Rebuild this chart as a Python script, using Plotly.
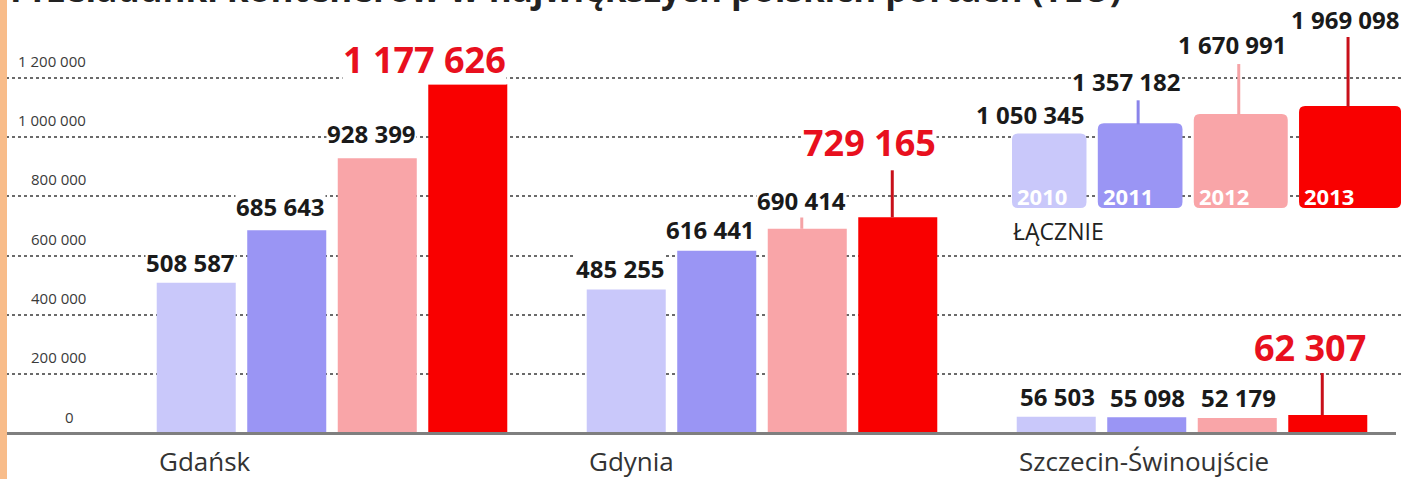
import math
import plotly.graph_objects as go

# ---------------- data ----------------
ports = ["Gdańsk", "Gdynia", "Szczecin-Świnoujście"]
years = ["2010", "2011", "2012", "2013"]
v2010 = [508587, 485255, 56503]
v2011 = [685643, 616441, 55098]
v2012 = [928399, 690414, 52179]
v2013 = [1177626, 729165, 62307]
totals = [1050345, 1357182, 1670991, 1969098]
tick_vals = [0, 200000, 400000, 600000, 800000, 1000000, 1200000]
tick_labels = ["0", "200 000", "400 000", "600 000", "800 000", "1 000 000", "1 200 000"]
total_label = "ŁĄCZNIE"
title_text = "Przeładunki kontenerów w największych polskich portach (TEU)"

series = [v2010, v2011, v2012, v2013]

# ---------------- layout constants ----------------
W, H = 1401, 479
X0PX, XUNIT = 332.0, 430.0          # pixel of category 0 centre, pixels per category
Y0PX, YPX = 433.5, 296.5e-6         # pixel of value 0, pixels per unit
BARGAP, GROUPGAP = 0.158, 0.127
SLOT = (1 - BARGAP) / 4
BARW = SLOT * (1 - GROUPGAP)

bar_colors = ["#c9c8fa", "#9a95f4", "#f9a5a8", "#f90000"]
leader_colors = ["#c9c8fa", "#8a84ea", "#f5a3a6", "#c8101a"]
label_colors = ["#1a1a1a", "#1a1a1a", "#1a1a1a", "#e8101e"]
label_sizes = [24, 24, 24, 36]
label_shift = [[20, 21.5, 20], [24, 21, 20], [25, 28, 21], [25, 75, 68]]
leader_len = [[0, 0, 0], [0, 0, 0], [0, 14, 0], [0, 47, 42]]

FONT = "Open Sans, Noto Sans, DejaVu Sans, sans-serif"


def px_x(p):
    return p / W


def px_y(p):
    return 1 - p / H


def fmt(v):
    return f"{v:,}".replace(",", " ")


fig = go.Figure()
for k, (yr, vals) in enumerate(zip(years, series)):
    fig.add_trace(go.Bar(
        x=list(range(len(ports))), y=vals, name=yr,
        marker=dict(color=bar_colors[k], line=dict(width=0)),
        hoverinfo="y",
    ))

annotations = []
shapes = []

# value labels and leader lines
for k, vals in enumerate(series):
    for i, v in enumerate(vals):
        centre = i + (k - 1.5) * SLOT
        right = centre + BARW / 2
        annotations.append(dict(
            x=right, y=v, xref="x", yref="y", xanchor="right", yanchor="middle",
            yshift=label_shift[k][i], text="<b>" + fmt(v) + "</b>", showarrow=False,
            font=dict(family=FONT, size=label_sizes[k], color=label_colors[k]),
            bgcolor="white", borderpad=0,
        ))
        L = leader_len[k][i]
        if L:
            lx = centre - 5.5 / XUNIT
            shapes.append(dict(type="line", xref="x", yref="y", x0=lx, x1=lx,
                               y0=v, y1=v + L / YPX,
                               line=dict(color=leader_colors[k], width=3), layer="above"))

# category labels
for i, p in enumerate(ports):
    left = i - 1.5 * SLOT - BARW / 2
    annotations.append(dict(
        x=left, y=px_y(461), xref="x", yref="paper", xanchor="left", yanchor="middle",
        text=p, showarrow=False, font=dict(family=FONT, size=26, color="#333333"),
    ))

# y tick labels
for tv, tl in zip(tick_vals, tick_labels):
    ypx = Y0PX - tv * YPX - 17
    xr = 76 if tv == 0 else 88
    annotations.append(dict(
        x=px_x(xr), y=px_y(ypx), xref="paper", yref="paper", xanchor="right",
        yanchor="middle", text=tl, showarrow=False,
        font=dict(family=FONT, size=15, color="#3a3a3a"),
    ))

# totals ("ŁĄCZNIE") boxes, area proportional to value
kbox = 102 / math.sqrt(max(totals))
left = 1012.0
bottom = 208.0
tot_label_off = [19, 42, 70, 87]
tot_leader = [0, 23, 50, 69]
for k, t in enumerate(totals):
    side = kbox * math.sqrt(t)
    x0, x1 = left, left + side
    y1, y0 = bottom, bottom - side
    r = 6
    path = (f"M {px_x(x0 + r)},{px_y(y0)} L {px_x(x1 - r)},{px_y(y0)} "
            f"Q {px_x(x1)},{px_y(y0)} {px_x(x1)},{px_y(y0 + r)} "
            f"L {px_x(x1)},{px_y(y1 - r)} Q {px_x(x1)},{px_y(y1)} {px_x(x1 - r)},{px_y(y1)} "
            f"L {px_x(x0 + r)},{px_y(y1)} Q {px_x(x0)},{px_y(y1)} {px_x(x0)},{px_y(y1 - r)} "
            f"L {px_x(x0)},{px_y(y0 + r)} Q {px_x(x0)},{px_y(y0)} {px_x(x0 + r)},{px_y(y0)} Z")
    shapes.append(dict(type="path", path=path, xref="paper", yref="paper",
                       fillcolor=bar_colors[k], line=dict(width=0), layer="above"))
    if tot_leader[k]:
        cx = (x0 + x1) / 2 - 2
        shapes.append(dict(type="line", xref="paper", yref="paper",
                           x0=px_x(cx), x1=px_x(cx), y0=px_y(y0 + 1), y1=px_y(y0 - tot_leader[k]),
                           line=dict(color=leader_colors[k], width=3), layer="above"))
    annotations.append(dict(
        x=px_x(x1), y=px_y(y0 - tot_label_off[k]), xref="paper", yref="paper",
        xanchor="right", yanchor="middle", text="<b>" + fmt(t) + "</b>", showarrow=False,
        font=dict(family=FONT, size=24, color="#1a1a1a"), bgcolor="white", borderpad=0,
    ))
    annotations.append(dict(
        x=px_x(x0 + 3), y=px_y(196), xref="paper", yref="paper",
        xanchor="left", yanchor="middle", text="<b>" + years[k] + "</b>", showarrow=False,
        font=dict(family=FONT, size=22, color="white"),
    ))
    left = x1 + 11.3

annotations.append(dict(
    x=px_x(1011), y=px_y(231), xref="paper", yref="paper", xanchor="left",
    yanchor="middle", text=total_label, showarrow=False,
    font=dict(family=FONT, size=23, color="#222222"),
))

# partially visible title at top (cut off by the page edge, as in the source)
annotations.append(dict(
    x=px_x(8), y=px_y(-11), xref="paper", yref="paper", xanchor="left",
    yanchor="middle", text="<b>" + title_text + "</b>", showarrow=False,
    font=dict(family=FONT, size=35, color="#222222"),
))

# baseline and orange edge strip
shapes.append(dict(type="line", xref="paper", yref="y", x0=px_x(7), x1=px_x(1396),
                   y0=0, y1=0, line=dict(color="#7f7f7f", width=3), layer="above"))
shapes.append(dict(type="rect", xref="paper", yref="paper", x0=0, x1=px_x(7), y0=0, y1=1,
                   fillcolor="#f8bc8a", line=dict(width=0), layer="above"))

ymax = Y0PX / YPX
ymin = -(H - Y0PX) / YPX
xmin = -X0PX / XUNIT
xmax = (W - X0PX) / XUNIT

fig.update_layout(
    width=W, height=H, margin=dict(l=0, r=0, t=0, b=0),
    paper_bgcolor="white", plot_bgcolor="white",
    barmode="group", bargap=BARGAP, bargroupgap=GROUPGAP,
    showlegend=False,
    xaxis=dict(range=[xmin, xmax], visible=False, fixedrange=True),
    yaxis=dict(range=[ymin, ymax], tickmode="array", tickvals=tick_vals[1:],
               showticklabels=False, showgrid=True, gridcolor="#6a6a6a", gridwidth=1.5,
               griddash="dot", zeroline=False, showline=False, fixedrange=True),
    annotations=annotations, shapes=shapes,
    font=dict(family=FONT),
)

fig.write_html("out.html")
